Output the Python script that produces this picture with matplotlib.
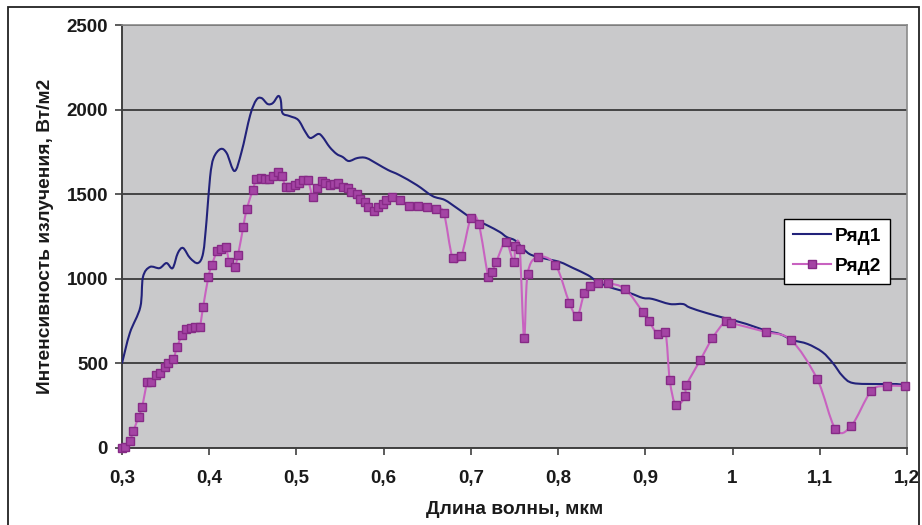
"""Spectral irradiance chart: two series (Ряд1, Ряд2) vs wavelength."""

import matplotlib
matplotlib.use("Agg")
import matplotlib.pyplot as plt
import numpy as np
from matplotlib.lines import Line2D
from matplotlib.patches import PathPatch, Rectangle
from matplotlib.path import Path
from matplotlib.ticker import FuncFormatter, MultipleLocator

plt.rcParams["font.family"] = ["Liberation Sans", "DejaVu Sans"]
plt.rcParams["font.weight"] = "bold"

# --- data -----------------------------------------------------------------
series1_x = [0.300, 0.309, 0.321, 0.324, 0.332, 0.343, 0.351, 0.358, 0.364, 0.370,
             0.378, 0.387, 0.393, 0.397, 0.401, 0.405, 0.413, 0.420, 0.429, 0.437,
             0.447, 0.454, 0.460, 0.467, 0.473, 0.479, 0.482, 0.484, 0.492, 0.502,
             0.510, 0.516, 0.525, 0.530, 0.538, 0.546, 0.553, 0.560, 0.570, 0.580,
             0.593, 0.605, 0.618, 0.638, 0.656, 0.670, 0.684, 0.699, 0.718, 0.733,
             0.741, 0.750, 0.756, 0.767, 0.782, 0.802, 0.817, 0.834, 0.844, 0.859,
             0.882, 0.897, 0.908, 0.928, 0.943, 0.951, 0.970, 0.991, 1.016, 1.039,
             1.054, 1.069, 1.086, 1.103, 1.115, 1.126, 1.138, 1.168, 1.188, 1.200]
series1_y = [500, 680, 833, 1010, 1070, 1063, 1093, 1063, 1152, 1182,
             1123, 1093, 1152, 1348, 1602, 1714, 1767, 1743, 1637, 1749,
             1968, 2057, 2068, 2033, 2039, 2080, 2057, 1980, 1962, 1939,
             1870, 1832, 1856, 1838, 1779, 1738, 1720, 1696, 1714, 1714,
             1678, 1643, 1613, 1554, 1489, 1466, 1418, 1365, 1318, 1277,
             1247, 1229, 1200, 1147, 1123, 1099, 1064, 1022, 987, 951,
             916, 887, 881, 851, 851, 830, 798, 768, 733, 692,
             674, 638, 615, 567, 502, 426, 384, 378, 378, 370]

series2_x = [0.300, 0.303, 0.309, 0.313, 0.319, 0.323, 0.329, 0.333, 0.339, 0.344,
             0.349, 0.353, 0.359, 0.363, 0.369, 0.373, 0.379, 0.384, 0.389, 0.393,
             0.399, 0.403, 0.409, 0.413, 0.419, 0.423, 0.429, 0.433, 0.439, 0.443,
             0.450, 0.454, 0.459, 0.464, 0.469, 0.473, 0.479, 0.483, 0.488, 0.493,
             0.498, 0.503, 0.508, 0.513, 0.519, 0.523, 0.529, 0.533, 0.539, 0.543,
             0.548, 0.553, 0.559, 0.563, 0.569, 0.573, 0.579, 0.582, 0.589, 0.593,
             0.599, 0.603, 0.609, 0.619, 0.629, 0.639, 0.650, 0.660, 0.669, 0.679,
             0.689, 0.700, 0.709, 0.720, 0.724, 0.729, 0.740, 0.749, 0.751, 0.756,
             0.761, 0.765, 0.777, 0.797, 0.813, 0.822, 0.830, 0.837, 0.846, 0.857,
             0.877, 0.897, 0.904, 0.914, 0.923, 0.928, 0.935, 0.946, 0.947, 0.963,
             0.977, 0.992, 0.998, 1.038, 1.067, 1.097, 1.118, 1.136, 1.159, 1.177,
             1.198]
series2_y = [0, 6, 41, 100, 183, 242, 390, 390, 431, 443,
             479, 502, 526, 597, 668, 703, 709, 715, 715, 833,
             1010, 1082, 1164, 1176, 1188, 1099, 1070, 1141, 1306, 1412,
             1525, 1590, 1596, 1590, 1590, 1608, 1631, 1608, 1543, 1543,
             1554, 1566, 1584, 1584, 1483, 1536, 1578, 1566, 1554, 1560,
             1566, 1543, 1537, 1513, 1501, 1472, 1454, 1424, 1401, 1424,
             1442, 1466, 1483, 1466, 1430, 1430, 1424, 1413, 1389, 1123,
             1135, 1359, 1324, 1010, 1040, 1099, 1218, 1099, 1194, 1176,
             650, 1028, 1129, 1082, 857, 780, 916, 957, 975, 975,
             939, 804, 751, 674, 686, 402, 254, 307, 370, 520,
             650, 751, 739, 686, 638, 408, 112, 130, 337, 366,
             366]

series_names = ["Ряд1", "Ряд2"]
x_ticks = [0.3, 0.4, 0.5, 0.6, 0.7, 0.8, 0.9, 1.0, 1.1, 1.2]

C1 = "#22227a"
C2_LINE = "#c862c0"
C2_FACE = "#a444a4"
C2_EDGE = "#862a86"
FS = 13.8


def smooth_path(xs, ys):
    """Excel-style smoothed line as a cubic Bezier path through every point."""
    p = np.column_stack([xs, ys]).astype(float)
    ext = np.vstack([p[0], p, p[-1]])
    verts = [p[0]]
    codes = [Path.MOVETO]
    for i in range(len(p) - 1):
        a, b, c, d = ext[i], ext[i + 1], ext[i + 2], ext[i + 3]
        verts += [b + (c - a) / 6.0, c - (d - b) / 6.0, c]
        codes += [Path.CURVE4] * 3
    return Path(verts, codes)


fig = plt.figure(figsize=(9.22, 5.25), dpi=100)
W, H = 922, 525
ax = fig.add_axes([122 / W, 1 - 448 / H, (907 - 122) / W, (448 - 25) / H])
ax.set_facecolor("#c9c9cb")

ax.set_xlim(0.3, 1.2)
ax.set_ylim(0, 2500)
ax.set_xticks(x_ticks)
ax.yaxis.set_major_locator(MultipleLocator(500))
ax.xaxis.set_major_formatter(FuncFormatter(lambda v, _: f"{v:g}".replace(".", ",")))
ax.tick_params(axis="both", direction="out", length=5, width=1.2, color="#404040",
               labelsize=13.5, pad=5)
ax.tick_params(axis="x", pad=11)
for lbl in ax.get_xticklabels() + ax.get_yticklabels():
    lbl.set_fontweight("bold")
    lbl.set_color("#1a1a1a")

ax.grid(axis="y", color="#2e2e2e", lw=1.2)
ax.set_axisbelow(True)
for side in ("left", "bottom"):
    ax.spines[side].set_color("#404040")
    ax.spines[side].set_linewidth(1.4)
for side in ("top", "right"):
    ax.spines[side].set_color("#8a8a8a")
    ax.spines[side].set_linewidth(1.2)

ax.add_patch(PathPatch(smooth_path(series1_x, series1_y), fill=False,
                       edgecolor=C1, lw=1.5, zorder=3))
ax.add_patch(PathPatch(smooth_path(series2_x, series2_y), fill=False,
                       edgecolor=C2_LINE, lw=1.5, zorder=3))
ax.plot(series2_x, series2_y, ls="none", marker="s", ms=5.5, mfc=C2_FACE,
        mec=C2_EDGE, mew=1.0, zorder=4, clip_on=False)

handles = [Line2D([], [], color=C1, lw=1.5),
           Line2D([], [], color=C2_LINE, lw=1.5, marker="s", ms=5.5,
                  mfc=C2_FACE, mec=C2_EDGE, mew=1.0)]
leg = ax.legend(handles, series_names, loc="upper left",
                bbox_to_anchor=((784 - 122) / 785, (448 - 219) / 423),
                borderaxespad=0, fancybox=False, framealpha=1,
                edgecolor="black", prop={"size": FS, "weight": "bold"},
                handlelength=2.0, handletextpad=0.2, labelspacing=0.65,
                borderpad=0.45)
leg.get_frame().set_linewidth(1.0)

fig.text(514.5 / W, 1 - 510 / H, "Длина волны, мкм", ha="center", va="center",
         fontsize=FS, fontweight="bold", color="#1a1a1a")
fig.text(45 / W, 1 - 236 / H, "Интенсивность излучения, Вт/м2", ha="center",
         va="center", rotation=90, fontsize=FS, fontweight="bold", color="#1a1a1a")

# outer chart frame (its bottom edge lies below the picture)
fig.patches.append(Rectangle((8 / W, -0.05), (919 - 8) / W, 1.05 - 7 / H,
                             transform=fig.transFigure, fill=False,
                             edgecolor="#222222", lw=1.3))

fig.savefig("out.png", dpi=100)
